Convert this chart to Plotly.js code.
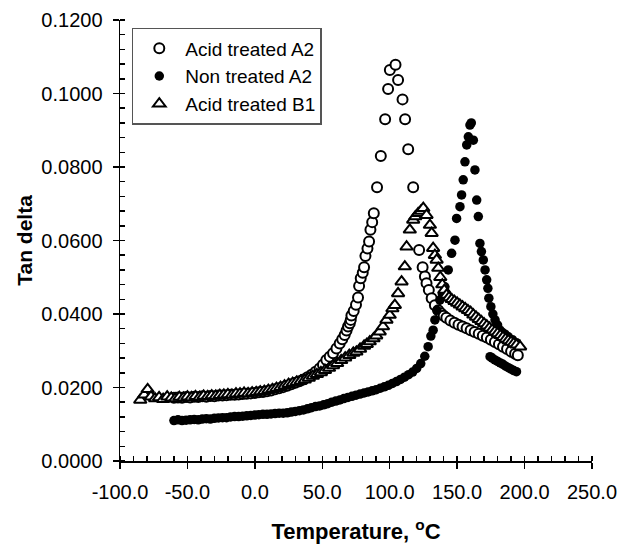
<!DOCTYPE html>
<html>
<head>
<meta charset="utf-8">
<script src="https://cdn.plot.ly/plotly-3.0.1.min.js"></script>
<style>html,body{margin:0;padding:0;background:#fff;}#chart{width:619px;height:546px;}</style>
</head>
<body>
<div id="chart"></div>
<script>
// Acid treated A2 (open circles)
const a2AcidT = [-60,-57,-54,-51,-48,-45,-42,-39,-36,-33,-30,-27,-24,-21,-18,-15,-12,-9,-6,-3,0,3,6,9,12,15,18,21,24,27,30,33,36,39,42,45,48,50.5,53,55.5,58,60.5,62.9,64.8,66.6,68,69.1,70.4,71.1,71.6,73.3,75,76.5,77.3,78.5,80,81,82,83.5,84.7,85.7,87,88.2,90.6,93.4,96.6,98.8,100.1,104.3,106.2,109.5,111.4,113.7,117.4,121.8,124.4,126.1,127.3,129,131.1,133.5,136,138,140,142,145,148,151,154,157,160,163,166,169,172,175,178,181,184,187,190,193,195];
const a2AcidV = [0.0172,0.0173,0.0172,0.0174,0.0173,0.0175,0.0174,0.0176,0.0175,0.0177,0.0176,0.0178,0.0178,0.0179,0.0180,0.0180,0.0181,0.0182,0.0183,0.0184,0.0185,0.0187,0.0188,0.0190,0.0192,0.0195,0.0198,0.0201,0.0205,0.0209,0.0213,0.0217,0.0222,0.0228,0.0235,0.0243,0.0252,0.0262,0.0275,0.0284,0.0293,0.0306,0.0320,0.0331,0.0343,0.0355,0.0366,0.0375,0.0384,0.0396,0.0408,0.0425,0.0445,0.0476,0.0497,0.0512,0.0527,0.0558,0.0578,0.0597,0.0629,0.0650,0.0674,0.0745,0.0830,0.0930,0.1012,0.1064,0.1078,0.1037,0.0984,0.0930,0.0848,0.0745,0.0574,0.0527,0.0502,0.0484,0.0465,0.0443,0.0424,0.0410,0.0402,0.0395,0.0390,0.0382,0.0376,0.0371,0.0366,0.0361,0.0356,0.0351,0.0346,0.0341,0.0336,0.0330,0.0324,0.0318,0.0311,0.0305,0.0298,0.0292,0.0288];

// Non treated A2 (filled circles)
const a2NonT = [-60,-57,-54,-51,-48,-45,-42,-39,-36,-33,-30,-27,-24,-21,-18,-15,-12,-9,-6,-3,0,3,6,9,12,15,18,21,24,27,30,33,36,39,42,45,48,51,54,57,60,63,66,69,72,75,78,81,84,87,90,93,96,99,102,105,108,111,114,117,120,123,126,128.5,130.5,132.2,133.5,135,137.2,139,140.9,143.4,145.9,148.4,149.6,152.1,153.3,154.5,155.8,157.1,158.3,159.5,160.5,162,163.2,164.5,165.7,166.9,168,169.4,170.7,171.9,172.8,173.5,175,176.5,178.1,180,181.8,183.5,185.5,188,191,194,174.4,176,178,180,182,184,186,188,190,192,194];
const a2NonV = [0.0110,0.0112,0.0110,0.0111,0.0112,0.0113,0.0112,0.0114,0.0115,0.0114,0.0116,0.0117,0.0118,0.0118,0.0120,0.0121,0.0121,0.0122,0.0123,0.0124,0.0125,0.0126,0.0127,0.0127,0.0128,0.0129,0.0130,0.0130,0.0131,0.0133,0.0135,0.0137,0.0139,0.0142,0.0145,0.0148,0.0150,0.0153,0.0156,0.0160,0.0163,0.0166,0.0170,0.0173,0.0176,0.0179,0.0182,0.0185,0.0188,0.0191,0.0194,0.0198,0.0202,0.0206,0.0211,0.0216,0.0222,0.0228,0.0235,0.0242,0.0252,0.0265,0.0285,0.0311,0.0340,0.0356,0.0384,0.0410,0.0438,0.0455,0.0474,0.0520,0.0565,0.0601,0.0660,0.0692,0.0724,0.0765,0.0814,0.0860,0.0882,0.0914,0.0920,0.0873,0.0792,0.0710,0.0665,0.0592,0.0570,0.0547,0.0520,0.0493,0.0470,0.0443,0.0420,0.0400,0.0384,0.0370,0.0356,0.0350,0.0345,0.0338,0.0330,0.0322,0.0284,0.0280,0.0275,0.0271,0.0267,0.0263,0.0258,0.0254,0.0250,0.0246,0.0243];

// Acid treated B1 (open triangles)
const b1AcidT = [-85,-82,-79.5,-77,-74,-71,-68,-65,-62,-59,-56,-53,-50,-47,-44,-41,-38,-35,-32,-29,-26,-23,-20,-17,-14,-11,-8,-5,-2,1,4,7,10,13,16,19,22,25,28,31,34,37,40,43,46,49,52,55,58,61,64,67,70,73,75.3,78,81,83,85.2,88,90,92.6,95,97.6,100,102,103.8,106.2,108.8,111.2,112.5,114.9,117.4,119,121.1,123,124.9,127.3,129.8,131.1,132.2,133.5,134.8,136,137.5,139,140.5,142.2,144,146,148,150,152,154,156,158,160,162,164,166,168,170,172,174,176,178,180,182,184,186,188,190,192,194,196.7];
const b1AcidV = [0.0166,0.0180,0.0195,0.0175,0.0170,0.0173,0.0168,0.0175,0.0172,0.0170,0.0174,0.0172,0.0175,0.0173,0.0176,0.0174,0.0177,0.0176,0.0178,0.0177,0.0179,0.0180,0.0181,0.0180,0.0183,0.0183,0.0185,0.0184,0.0186,0.0187,0.0189,0.0190,0.0193,0.0195,0.0198,0.0201,0.0205,0.0209,0.0212,0.0215,0.0218,0.0221,0.0226,0.0231,0.0236,0.0241,0.0247,0.0253,0.0260,0.0266,0.0274,0.0281,0.0288,0.0294,0.0297,0.0305,0.0313,0.0318,0.0325,0.0333,0.0341,0.0352,0.0366,0.0384,0.0397,0.0415,0.0424,0.0456,0.0488,0.0529,0.0583,0.0629,0.0656,0.0665,0.0674,0.0680,0.0688,0.0669,0.0642,0.0620,0.0579,0.0560,0.0547,0.0525,0.0500,0.0480,0.0465,0.0452,0.0445,0.0440,0.0435,0.0430,0.0425,0.0420,0.0415,0.0410,0.0405,0.0398,0.0392,0.0386,0.0380,0.0374,0.0368,0.0362,0.0357,0.0352,0.0347,0.0342,0.0337,0.0332,0.0328,0.0324,0.0320,0.0316,0.0311];

const seriesNames = ['Acid treated A2', 'Non treated A2', 'Acid treated B1'];
const xTickVals = [-100, -50, 0, 50, 100, 150, 200, 250];
const xTickText = ['-100.0', '-50.0', '0.0', '50.0', '100.0', '150.0', '200.0', '250.0'];
const yTickVals = [0, 0.02, 0.04, 0.06, 0.08, 0.1, 0.12];
const yTickText = ['0.0000', '0.0200', '0.0400', '0.0600', '0.0800', '0.1000', '0.1200'];

const FONT = 'Liberation Sans, Arial, Helvetica, sans-serif';

const traces = [
  {x: a2AcidT, y: a2AcidV, name: seriesNames[0], type: 'scatter', mode: 'markers', cliponaxis: false,
   marker: {symbol: 'circle', size: 10, color: '#ffffff', line: {color: '#000000', width: 2}}},
  {x: a2NonT, y: a2NonV, name: seriesNames[1], type: 'scatter', mode: 'markers', cliponaxis: false,
   marker: {symbol: 'circle', size: 9.5, color: '#000000', line: {color: '#000000', width: 0}}},
  {x: b1AcidT, y: b1AcidV, name: seriesNames[2], type: 'scatter', mode: 'markers', cliponaxis: false,
   marker: {symbol: 'triangle-up', size: 11, color: '#ffffff', line: {color: '#000000', width: 2}}},
  {x: [], y: [], xaxis: 'x2', yaxis: 'y2', type: 'scatter', mode: 'markers', showlegend: false, hoverinfo: 'skip'}
];

const axisCommon = {showgrid: false, zeroline: false, showline: true, linecolor: '#000', linewidth: 1.5,
  ticks: 'outside', ticklen: 6, tickwidth: 1.5, tickcolor: '#000',
  tickfont: {family: FONT, size: 20, color: '#000'}};

const layout = {
  width: 619, height: 546,
  margin: {l: 120, r: 27, t: 20, b: 85},
  paper_bgcolor: '#fff', plot_bgcolor: '#fff',
  font: {family: FONT, color: '#000'},
  showlegend: true,
  xaxis: Object.assign({}, axisCommon, {
    range: [-100, 250], tickmode: 'array', tickvals: xTickVals, ticktext: xTickText, ticklabelstandoff: 6,
    minor: {dtick: 10, ticks: 'inside', ticklen: 5, tickwidth: 1.5, tickcolor: '#000'},
    title: {text: 'Temperature, <sup>o</sup>C', font: {family: FONT, size: 22, color: '#000', weight: 'bold'}, standoff: 22}
  }),
  yaxis: Object.assign({}, axisCommon, {
    range: [0, 0.12], tickmode: 'array', tickvals: yTickVals, ticktext: yTickText, ticklabelstandoff: 6,
    minor: {dtick: 0.004, ticks: 'inside', ticklen: 5, tickwidth: 1.5, tickcolor: '#000'},
    title: {text: 'Tan delta', font: {family: FONT, size: 21, color: '#000', weight: 'bold'}, standoff: 3}
  }),
  xaxis2: {overlaying: 'x', anchor: 'y2', range: [-100, 250], tickmode: 'array', tickvals: xTickVals, ticks: 'inside', ticklen: 5, tickwidth: 1.5, tickcolor: '#000', showticklabels: false, showgrid: false, zeroline: false, showline: false},
  yaxis2: {overlaying: 'y', anchor: 'x2', range: [0, 0.12], tickmode: 'array', tickvals: yTickVals, ticks: 'inside', ticklen: 5, tickwidth: 1.5, tickcolor: '#000', showticklabels: false, showgrid: false, zeroline: false, showline: false},
  legend: {x: 0.025, y: 0.982, xanchor: 'left', yanchor: 'top', bgcolor: '#fff', bordercolor: '#555', borderwidth: 1.5,
    font: {family: FONT, size: 19, color: '#000'}, itemwidth: 42, traceorder: 'normal'}
};

Plotly.newPlot('chart', traces, layout, {displayModeBar: false, staticPlot: true});
</script>
</body>
</html>
